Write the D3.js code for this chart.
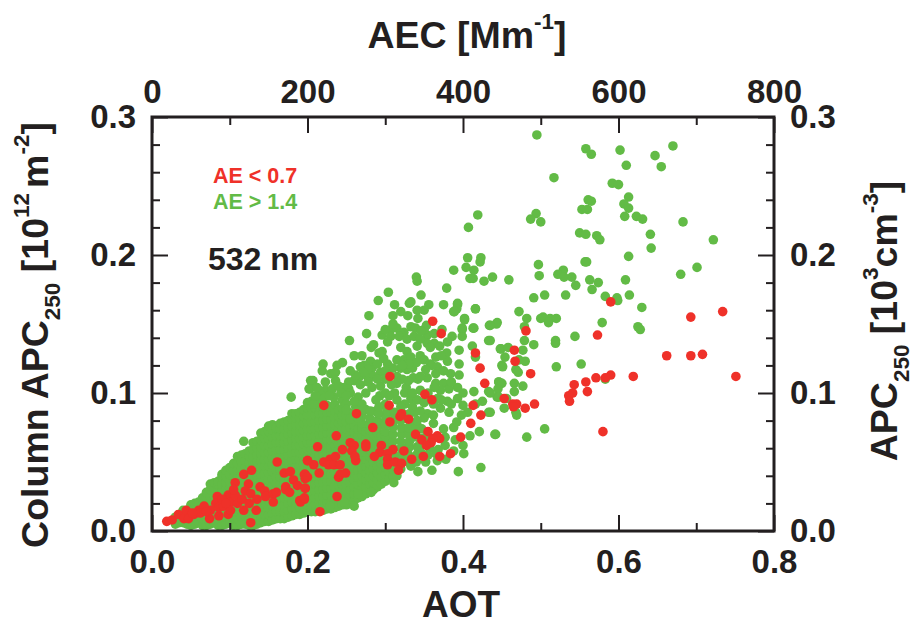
<!DOCTYPE html>
<html>
<head>
  <title>APC250 vs AOT</title>
  <script src="https://d3js.org/d3.v7.min.js"></script>
  <style>
    html, body { margin: 0; padding: 0; background: #fff; }
    svg { display: block; }
    text { font-family: "Liberation Sans", Arial, sans-serif; font-weight: bold; fill: #231f20; }
    .axis text { font-size: 33px; }
    .axis path, .axis line { stroke: #231f20; }
  </style>
</head>
<body>
  <div id="chart"></div>
  <script>
    // tick values
    var aotMajor = [0, 0.2, 0.4, 0.6, 0.8];
    var aotMinor = [0.1, 0.3, 0.5, 0.7];
    var aecMajor = [0, 200, 400, 600, 800];
    var aecMinor = [100, 300, 500, 700];
    var apcMajor = [0, 0.1, 0.2, 0.3];
    var apcMinor = [0.02, 0.04, 0.06, 0.08, 0.12, 0.14, 0.16, 0.18, 0.22, 0.24, 0.26, 0.28];

    // green points that can be told apart, [AOT, APC]
    var greenLoose = [
      [.291,.167],[.312,.164],[.331,.165],[.356,.164],[.375,.164],[.393,.164],[.416,.161],[.279,.156],[.310,.156],[.320,.159],
      [.329,.156],[.341,.160],[.350,.160],[.342,.154],[.388,.159],[.402,.154],[.434,.149],[.443,.150],[.353,.149],[.373,.146],
      [.399,.146],[.413,.147],[.399,.141],[.276,.143],[.254,.138],[.296,.142],[.307,.146],[.315,.147],[.324,.144],[.333,.148],
      [.339,.147],[.307,.141],[.320,.143],[.303,.137],[.285,.135],[.282,.133],[.354,.142],[.363,.143],[.386,.141],[.380,.137],
      [.433,.138],[.412,.134],[.363,.136],[.354,.136],[.341,.134],[.320,.133],[.395,.131],[.448,.132],[.379,.129],[.416,.126],
      [.260,.127],[.270,.127],[.296,.130],[.292,.129],[.328,.130],[.345,.127],[.365,.126],[.298,.125],[.380,.123],[.395,.121],
      [.220,.121],[.245,.122],[.238,.120],[.219,.116],[.230,.114],[.236,.115],[.281,.123],[.273,.120],[.268,.119],[.283,.118],
      [.294,.115],[.303,.121],[.315,.124],[.324,.124],[.333,.126],[.350,.124],[.358,.121],[.367,.119],[.320,.118],[.328,.117],
      [.315,.112],[.335,.118],[.450,.120],[.384,.114],[.395,.113],[.267,.112],[.277,.112],[.260,.109],[.253,.108],[.207,.109],
      [.203,.103],[.223,.108],[.236,.109],[.342,.110],[.354,.111],[.315,.107],[.327,.104],[.247,.104],[.253,.103],[.283,.104],
      [.294,.105],[.223,.102],[.365,.107],[.375,.107],[.393,.104],[.382,.103],[.371,.102],[.363,.104],[.345,.102],[.414,.101],
      [.433,.101],[.446,.108],[.444,.097],[.293,.098],[.333,.096],[.341,.095],[.352,.095],[.367,.096],[.393,.096],[.380,.094],
      [.221,.098],[.234,.097],[.245,.095],[.208,.092],[.315,.095],[.354,.085],[.371,.089],[.382,.086],[.406,.086],[.433,.086],
      [.343,.075],[.409,.069],[.421,.072],[.442,.070],[.401,.056],[.423,.046],[.394,.043],[.342,.043],[.360,.044],[.352,.050],
      [.367,.051],[.341,.061],[.375,.074],[.388,.075],[.388,.058],[.311,.035],[.282,.028],[.265,.027],[.260,.018],[.247,.021],
      [.229,.018],[.304,.173],[.340,.184],[.341,.181],[.346,.171],[.379,.176],[.409,.183],[.333,.166],
      [.495,.287],[.558,.277],[.565,.273],[.602,.276],[.670,.279],[.647,.272],[.655,.264],[.610,.265],[.517,.256],[.592,.252],
      [.600,.251],[.613,.242],[.561,.240],[.565,.239],[.607,.237],[.613,.234],[.553,.233],[.560,.233],[.419,.229],[.494,.230],
      [.487,.226],[.500,.224],[.608,.228],[.623,.228],[.631,.226],[.683,.224],[.407,.220],[.550,.216],[.558,.215],[.572,.214],
      [.576,.211],[.641,.215],[.722,.211],[.642,.205],[.613,.199],[.406,.198],[.423,.198],[.422,.195],[.497,.193],[.557,.195],
      [.559,.195],[.404,.191],[.388,.189],[.414,.189],[.701,.191],[.680,.186],[.529,.189],[.498,.185],[.522,.186],[.530,.184],
      [.540,.184],[.413,.183],[.438,.184],[.427,.181],[.459,.182],[.563,.182],[.574,.180],[.609,.182],[.545,.178],[.566,.175],
      [.532,.171],[.505,.171],[.491,.169],[.583,.170],[.598,.169],[.599,.167],[.614,.171],[.393,.165],[.630,.162],[.392,.161],
      [.389,.159],[.416,.161],[.472,.159],[.402,.153],[.482,.154],[.500,.154],[.503,.155],[.512,.154],[.520,.154],[.510,.151],
      [.444,.151],[.435,.149],[.579,.151],[.399,.147],[.414,.147],[.479,.148],[.625,.148],[.628,.146],
      [.435,.138],[.479,.138],[.491,.135],[.519,.138],[.519,.136],[.544,.141],[.449,.132],[.458,.133],[.477,.131],[.454,.126],
      [.472,.124],[.480,.123],[.451,.119],[.520,.119],[.552,.121],[.468,.117],[.471,.115],[.446,.108],[.450,.107],[.466,.107],
      [.477,.105],[.445,.103],[.466,.101],[.435,.100],[.446,.097],[.456,.096],[.453,.089],[.468,.086],[.469,.084],[.435,.086],
      [.441,.070],[.482,.068],[.505,.074],[.583,.110],[.118,.065],[.179,.097],[.204,.109],[.202,.103],
      [.250,.092],[.262,.090],[.275,.088],[.288,.087],[.300,.084],[.312,.086],[.325,.082],[.338,.086],[.255,.081],[.268,.083],
      [.281,.080],[.295,.078],[.310,.076],[.322,.073],[.333,.070],[.345,.067],[.357,.060],[.368,.059],[.377,.062],[.330,.062],
      [.322,.054],[.333,.047],[.327,.057],[.350,.082],[.362,.078],[.398,.084],[.392,.079],[.347,.056],
      [.300,.146],[.310,.150],[.318,.141],[.328,.139],[.337,.141],[.345,.139],[.350,.146],[.358,.133],[.346,.145],[.370,.134],
      [.372,.127],[.360,.120],[.352,.117],[.340,.122],[.330,.121],[.322,.120],[.310,.118],[.300,.116],[.290,.121],[.278,.117],
      [.272,.115],[.262,.113],[.255,.116],[.285,.112],[.300,.110],[.308,.106],[.336,.111],[.330,.109],[.322,.110],[.345,.112],
      [.365,.114],[.375,.116],[.385,.108],[.400,.100],[.355,.100],[.350,.093],[.362,.092],[.372,.095],[.385,.092],[.400,.091],
      [.416,.092],[.425,.094],[.345,.087],[.362,.084],[.325,.100],[.312,.100],[.300,.100],[.288,.095],[.275,.100],[.265,.097],
      [.255,.100],[.243,.100],[.232,.103],[.215,.102],[.210,.098],[.240,.105],[.270,.092],[.300,.092],[.325,.092],[.335,.090],
      [.336,.078],[.347,.074],[.332,.066],[.345,.061],[.355,.055],[.365,.056],[.378,.052],[.390,.066],[.400,.062],[.377,.068],
      [.352,.068],[.340,.078],
      [.270,.078],[.270,.083],[.272,.088],[.280,.077],[.280,.082],[.281,.087],[.290,.075],[.290,.080],[.291,.085],[.292,.090],
      [.300,.072],[.300,.077],[.301,.082],[.302,.087],[.310,.070],[.310,.075],[.311,.080],[.311,.085],[.320,.045],[.320,.050],
      [.320,.055],[.320,.060],[.320,.065],[.321,.070],[.321,.075],[.320,.080],[.321,.086],[.330,.050],[.330,.055],[.330,.060],
      [.331,.065],[.330,.070],[.330,.075],[.331,.080],[.331,.085],[.340,.050],[.340,.055],[.341,.068],[.340,.074],[.341,.080],
      [.315,.040],[.315,.045],[.212,.104],[.228,.098],[.250,.098],[.260,.094],[.268,.106],[.278,.108],[.290,.110],[.305,.098],
      [.320,.090],[.335,.100],[.250,.088],[.260,.086],[.265,.082]
    ];

    // dense part of the green cloud, read column by column: one AOT, many APC
    var greenCoreAot = [
      .03,.035,.04,.045,.05,.055,.06,.065,.07,.075,.08,.085,.09,.095,.10,.105,.11,.115,.12,.125,.13,.135,.14,.145,.15,.155,
      .16,.165,.17,.175,.18,.185,.19,.195,.20,.205,.21,.215,.22,.225,.23,.235,.24,.245,.25,.255,.26,.265,.27,.275,.28,.285,.29,.295,.30,.305,.31
    ];
    var greenCoreApc = [
      [.005,.010],
      [.006,.012],
      [.006,.011,.015],
      [.005,.010,.015],
      [.004,.009,.014,.019],
      [.005,.010,.015,.020],
      [.006,.011,.016,.021],
      [.004,.009,.014,.019,.024],
      [.004,.009,.014,.019,.024,.028],
      [.005,.010,.015,.020,.025,.030,.034],
      [.006,.011,.016,.021,.026,.031,.035],
      [.004,.009,.014,.019,.024,.029,.034,.036],
      [.004,.009,.014,.019,.024,.029,.034,.039,.041],
      [.005,.010,.015,.020,.025,.030,.035,.040,.044],
      [.006,.011,.016,.021,.026,.031,.036,.041,.046],
      [.004,.009,.014,.019,.024,.029,.034,.039,.044,.049],
      [.004,.009,.014,.019,.024,.029,.034,.039,.044,.049,.054],
      [.005,.010,.015,.020,.025,.030,.035,.040,.045,.050,.055],
      [.005,.011,.016,.021,.026,.031,.036,.041,.046,.051,.056],
      [.004,.009,.014,.019,.024,.029,.034,.039,.044,.049,.054,.058],
      [.004,.009,.014,.019,.024,.029,.034,.039,.044,.049,.054,.059,.064],
      [.005,.010,.015,.020,.025,.030,.035,.040,.045,.050,.055,.060,.065],
      [.006,.011,.016,.021,.026,.031,.036,.041,.046,.051,.056,.061,.066,.071],
      [.007,.012,.017,.022,.027,.032,.037,.042,.047,.052,.057,.062,.067,.072],
      [.007,.012,.017,.022,.027,.032,.037,.042,.047,.052,.057,.062,.067,.072,.076],
      [.008,.013,.018,.023,.028,.033,.038,.043,.048,.053,.058,.063,.068,.073,.077],
      [.009,.014,.019,.024,.029,.034,.039,.044,.049,.054,.059,.064,.069,.074,.075],
      [.009,.014,.019,.024,.029,.034,.039,.044,.049,.054,.059,.064,.069,.074,.078],
      [.009,.014,.019,.024,.029,.034,.039,.044,.049,.054,.059,.064,.069,.074,.079],
      [.010,.015,.020,.025,.030,.035,.040,.045,.050,.055,.060,.065,.070,.075,.080],
      [.011,.016,.021,.026,.031,.036,.041,.046,.051,.056,.061,.066,.071,.076,.081,.085],
      [.012,.017,.022,.027,.032,.037,.042,.047,.052,.057,.062,.067,.072,.077,.082,.085],
      [.012,.017,.022,.027,.032,.037,.042,.047,.052,.057,.062,.067,.072,.077,.082,.086],
      [.013,.018,.023,.028,.033,.038,.043,.048,.053,.058,.063,.068,.073,.078,.083,.088],
      [.014,.019,.024,.029,.034,.039,.044,.049,.054,.059,.064,.069,.074,.079,.084,.089,.093],
      [.014,.019,.024,.029,.034,.039,.044,.049,.054,.059,.064,.069,.074,.079,.084,.089,.094],
      [.014,.019,.024,.029,.034,.039,.044,.049,.054,.059,.064,.069,.074,.079,.084,.089,.094],
      [.015,.020,.025,.030,.035,.040,.045,.050,.055,.060,.065,.070,.075,.080,.085,.090,.095],
      [.015,.020,.025,.030,.035,.040,.045,.050,.055,.060,.065,.070,.075,.080,.085,.090,.093],
      [.016,.021,.026,.031,.036,.041,.046,.051,.056,.061,.066,.071,.076,.081,.086,.091],
      [.016,.021,.026,.031,.036,.041,.046,.051,.056,.061,.066,.071,.076,.081,.086,.090],
      [.017,.022,.027,.032,.037,.042,.047,.052,.057,.062,.067,.072,.077,.082,.087,.092],
      [.018,.023,.028,.033,.038,.043,.048,.053,.058,.063,.068,.073,.078,.083,.088],
      [.019,.024,.029,.034,.039,.044,.049,.054,.059,.064,.069,.074,.079,.084,.089],
      [.019,.024,.029,.034,.039,.044,.049,.054,.059,.064,.069,.074,.079,.084],
      [.020,.025,.030,.035,.040,.045,.050,.055,.060,.065,.070,.075,.080],
      [.022,.027,.032,.037,.042,.047,.052,.057,.062,.067,.072,.077],
      [.024,.029,.034,.039,.044,.049,.054,.059,.064,.069,.074],
      [.025,.030,.035,.040,.045,.050,.055,.060,.065,.070,.074],
      [.027,.032,.037,.042,.047,.052,.057,.062,.067,.072],
      [.029,.034,.039,.044,.049,.054,.059,.064,.069,.073],
      [.030,.035,.040,.045,.050,.055,.060,.065,.070],
      [.032,.037,.042,.047,.052,.057,.062,.067,.071],
      [.034,.039,.044,.049,.054,.059,.064,.069],
      [.036,.041,.046,.051,.056,.061,.066,.069],
      [.038,.043,.048,.053,.058,.063,.067],
      [.040,.045,.050,.055,.060,.065]
    ];

    // red points, [AOT, APC]
    var redPoints = [
      [.590,.166],[.693,.155],[.734,.159],[.481,.145],[.573,.142],[.466,.131],[.467,.123],[.487,.114],[.662,.127],[.693,.127],
      [.708,.128],[.619,.112],[.751,.112],[.590,.113],[.583,.111],[.571,.111],[.558,.108],[.543,.106],[.560,.101],[.541,.100],
      [.536,.098],[.537,.094],[.453,.096],[.492,.092],[.464,.092],[.469,.092],[.465,.090],[.480,.089],[.580,.072],
      [.361,.152],[.372,.143],[.416,.129],[.422,.118],[.428,.107],[.306,.112],[.351,.099],[.360,.095],[.413,.091],[.423,.084],
      [.410,.078],[.397,.068],[.221,.091],[.263,.085],[.305,.091],[.321,.085],[.319,.083],[.330,.081],[.306,.079],[.284,.075],
      [.339,.070],[.355,.072],[.367,.069],[.370,.067],[.361,.067],[.347,.066],[.359,.064],[.353,.062],[.237,.069],[.213,.061],
      [.255,.064],[.260,.062],[.275,.063],[.275,.061],[.257,.058],[.295,.062],[.310,.059],[.324,.058],[.245,.059],[.293,.057],
      [.286,.054],[.303,.056],[.303,.052],[.262,.051],[.261,.054],[.303,.048],[.313,.050],[.321,.049],[.317,.044],[.334,.052],
      [.349,.054],[.370,.054],[.384,.056],[.200,.051],[.208,.048],[.215,.042],[.221,.050],[.229,.052],[.227,.048],[.234,.048],
      [.242,.048],[.236,.054],[.240,.039],[.242,.041],[.249,.042],[.197,.041],[.197,.038],[.197,.031],[.196,.023],[.191,.021],
      [.238,.025],[.216,.014],
      [.019,.007],[.026,.008],[.034,.012],[.041,.009],[.044,.015],[.047,.009],[.054,.012],[.060,.015],[.067,.018],[.062,.013],
      [.074,.009],[.075,.015],[.084,.025],[.082,.020],[.086,.011],[.086,.017],[.092,.018],[.098,.026],[.098,.012],[.101,.021],
      [.101,.015],[.107,.035],[.107,.026],[.110,.020],[.118,.041],[.128,.044],[.124,.034],[.120,.029],[.127,.027],[.116,.023],
      [.118,.015],[.125,.020],[.135,.023],[.134,.015],[.127,.006],[.139,.032],[.145,.029],[.146,.025],[.156,.027],[.160,.028],
      [.156,.021],[.161,.050],[.170,.042],[.178,.043],[.172,.032],[.172,.030],[.177,.028],[.182,.037],[.187,.033],[.190,.022],
      [.196,.024],[.197,.031],[.196,.041],[.200,.039],[.200,.051],[.090,.023],[.095,.020],[.105,.030],[.070,.014],[.052,.013]
    ];

    var width = 915, height = 625;
    var margin = { top: 117, right: 141, bottom: 94, left: 152 };

    var x = d3.scaleLinear().domain([0, 0.8]).range([margin.left, width - margin.right]);
    var xTop = d3.scaleLinear().domain([0, 800]).range(x.range());
    var y = d3.scaleLinear().domain([0, 0.3]).range([height - margin.bottom, margin.top]);

    var svg = d3.select("#chart").append("svg")
      .attr("width", width)
      .attr("height", height);

    // green first, red goes on top
    var greenCore = [];
    greenCoreAot.forEach(function(a, i) {
      greenCoreApc[i].forEach(function(v) { greenCore.push([a, v]); });
    });
    var green = greenCore.concat(greenLoose);

    function dots(data, color) {
      svg.append("g").selectAll("circle")
        .data(data)
        .enter().append("circle")
        .attr("cx", function(d) { return x(d[0]); })
        .attr("cy", function(d) { return y(d[1]); })
        .attr("r", 4.8)
        .attr("fill", color);
    }
    dots(green, "#62bb46");
    dots(redPoints, "#ef3129");

    // frame
    svg.append("rect")
      .attr("x", x(0))
      .attr("y", y(0.3))
      .attr("width", x(0.8) - x(0))
      .attr("height", y(0) - y(0.3))
      .attr("fill", "none")
      .attr("stroke", "#231f20")
      .attr("stroke-width", 3);

    // one pair of axes for the labelled long ticks, one for the short ones
    function addAxis(axis, tx, ty) {
      var g = svg.append("g")
        .attr("class", "axis")
        .attr("transform", "translate(" + tx + "," + ty + ")")
        .call(axis);
      g.select(".domain").remove();
      g.selectAll("line").attr("stroke-width", 2);
      return g;
    }
    var fmt1 = d3.format(".1f");
    var yBottom = y(0), yTop = y(0.3), xLeft = x(0), xRight = x(0.8);

    addAxis(d3.axisBottom(x).tickValues(aotMajor).tickFormat(fmt1).tickSize(-16).tickPadding(19), 0, yBottom);
    addAxis(d3.axisBottom(x).tickValues(aotMinor).tickFormat("").tickSize(-8), 0, yBottom);
    addAxis(d3.axisTop(xTop).tickValues(aecMajor).tickFormat(d3.format("d")).tickSize(-16).tickPadding(14), 0, yTop);
    addAxis(d3.axisTop(xTop).tickValues(aecMinor).tickFormat("").tickSize(-8), 0, yTop);
    addAxis(d3.axisLeft(y).tickValues(apcMajor).tickFormat(fmt1).tickSize(-16).tickPadding(16), xLeft, 0);
    addAxis(d3.axisLeft(y).tickValues(apcMinor).tickFormat("").tickSize(-8), xLeft, 0);
    addAxis(d3.axisRight(y).tickValues(apcMajor).tickFormat(fmt1).tickSize(-16).tickPadding(16), xRight, 0);
    addAxis(d3.axisRight(y).tickValues(apcMinor).tickFormat("").tickSize(-8), xRight, 0);

    // titles, parts are [text, kind, extra gap before]
    function title(parts, size, tx, ty, rotate) {
      var t = svg.append("text")
        .attr("text-anchor", "middle")
        .attr("font-size", size)
        .attr("transform", "translate(" + tx + "," + ty + ")" + (rotate ? " rotate(-90)" : ""));
      var shift = 0;
      parts.forEach(function(p) {
        var wanted = p[1] === "sup" ? -0.5 * size : p[1] === "sub" ? 0.33 * size : 0;
        t.append("tspan")
          .attr("dy", wanted - shift)
          .attr("dx", p[2] || 0)
          .attr("font-size", p[1] ? size * 0.6 : size)
          .text(p[0]);
        shift = wanted;
      });
    }
    title([["AEC [Mm"], ["-1", "sup"], ["]"]], 37.5, 467, 48);
    title([["AOT"]], 37, 461, 617);
    title([["Column APC"], ["250", "sub"], [" [10"], ["12", "sup"], ["m", null, 5], ["-2", "sup"], ["]"]], 37.5, 48, 335, true);
    title([["APC"], ["250", "sub"], [" [10"], ["3", "sup"], ["cm"], ["-3", "sup"], ["]"]], 37.5, 897, 321, true);

    // legend and wavelength note
    svg.append("text").attr("x", 213).attr("y", 183).attr("font-size", 21.5).style("fill", "#ef3129").text("AE < 0.7");
    svg.append("text").attr("x", 213).attr("y", 209).attr("font-size", 21.5).style("fill", "#62bb46").text("AE > 1.4");
    svg.append("text").attr("x", 208).attr("y", 270).attr("font-size", 32).text("532 nm");
  </script>
</body>
</html>
